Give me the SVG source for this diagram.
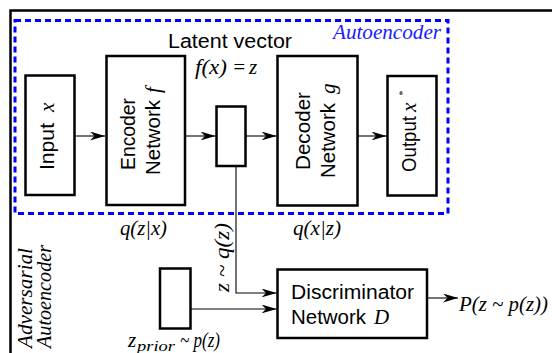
<svg xmlns="http://www.w3.org/2000/svg" width="552" height="353" viewBox="0 0 552 353">
<defs>
<style>
.box{fill:#fff;stroke:#000;stroke-width:2.5}
.ln{fill:none;stroke:#000;stroke-width:1.1}
.s{font-family:"Liberation Sans",Arial,sans-serif;font-size:20px;fill:#000}
.m{font-family:"Liberation Serif","Times New Roman",serif;font-style:italic;font-size:21px;fill:#000}
</style>
<marker id="ah" viewBox="0 0 15 9" refX="15" refY="4.5" markerWidth="15" markerHeight="9" orient="auto" markerUnits="userSpaceOnUse"><path d="M0,0 L15,4.5 L0,9 L4.5,4.5 Z" fill="#000"/></marker>
</defs>
<rect width="552" height="353" fill="#fff"/>
<path d="M10.5,353 V10.5 H552" fill="none" stroke="#000" stroke-width="2.5"/>
<g id="autoencoder-frame">
<rect x="15" y="20.5" width="433" height="193" fill="none" stroke="#0000ff" stroke-width="3" stroke-dasharray="6,4"/>
<text class="m" x="333" y="39" style="fill:#1a1aff" textLength="108" lengthAdjust="spacingAndGlyphs">Autoencoder</text>
</g>
<g id="adversarial-label">
<text class="m" transform="translate(32,348) rotate(-90)" textLength="100" lengthAdjust="spacingAndGlyphs">Adversarial</text>
<text class="m" transform="translate(51,348) rotate(-90)" textLength="103" lengthAdjust="spacingAndGlyphs">Autoencoder</text>
</g>
<g id="connectors">
<path class="ln" d="M75.5,136 H105" marker-end="url(#ah)"/>
<path class="ln" d="M185,136 H215.5" marker-end="url(#ah)"/>
<path class="ln" d="M246,136 H276.5" marker-end="url(#ah)"/>
<path class="ln" d="M357.5,136 H386.5" marker-end="url(#ah)"/>
<path class="ln" d="M236,166 V293 H276.5" marker-end="url(#ah)"/>
<path class="ln" d="M191,309 H276.5" marker-end="url(#ah)"/>
<path class="ln" d="M427,298 H458" marker-end="url(#ah)"/>
</g>
<g id="input">
<rect class="box" x="25.5" y="75.5" width="49" height="119.5"/>
<g transform="translate(53.5,170) rotate(-90)">
<text class="s" textLength="47" lengthAdjust="spacingAndGlyphs">Input</text>
<text class="m" x="58">x</text>
</g>
</g>
<g id="encoder">
<rect class="box" x="106.5" y="56" width="78.5" height="149"/>
<text class="s" transform="translate(135,170) rotate(-90)" textLength="72" lengthAdjust="spacingAndGlyphs">Encoder</text>
<g transform="translate(160,175) rotate(-90)">
<text class="s" textLength="75" lengthAdjust="spacingAndGlyphs">Network</text>
<text class="m" x="82">f</text>
</g>
<text class="m" x="120" y="235" textLength="47" lengthAdjust="spacingAndGlyphs">q(z|x)</text>
</g>
<g id="latent">
<text class="s" x="168" y="48" textLength="124" lengthAdjust="spacingAndGlyphs">Latent vector</text>
<text class="m" x="195" y="74" textLength="32" lengthAdjust="spacingAndGlyphs">f(x)</text>
<text class="m" x="232" y="74">=</text>
<text class="m" x="249" y="74">z</text>
<rect class="box" x="216.5" y="106.5" width="29" height="59.5"/>
<text class="m" transform="translate(229,292) rotate(-90)" textLength="69" lengthAdjust="spacingAndGlyphs">z ~ q(z)</text>
</g>
<g id="decoder">
<rect class="box" x="277.5" y="56" width="80" height="149.5"/>
<text class="s" transform="translate(310,170) rotate(-90)" textLength="78" lengthAdjust="spacingAndGlyphs">Decoder</text>
<g transform="translate(335,178) rotate(-90)">
<text class="s" textLength="75" lengthAdjust="spacingAndGlyphs">Network</text>
<text class="m" x="84">g</text>
</g>
<text class="m" x="293" y="235" textLength="48" lengthAdjust="spacingAndGlyphs">q(x|z)</text>
</g>
<g id="output">
<rect class="box" x="387.5" y="76" width="49" height="119.5"/>
<g transform="translate(416,172) rotate(-90)">
<text class="s" textLength="56" lengthAdjust="spacingAndGlyphs">Output</text>
<text class="m" x="60">x</text>
<text class="m" x="76" y="-10" style="font-size:10px">*</text>
</g>
</g>
<g id="prior">
<rect class="box" x="160" y="268.5" width="30.5" height="60"/>
<text class="m" x="128" y="347">z</text>
<text class="m" x="137" y="351" style="font-size:14px" textLength="38" lengthAdjust="spacingAndGlyphs">prior</text>
<text class="m" x="180" y="347" textLength="40" lengthAdjust="spacingAndGlyphs">~ p(z)</text>
</g>
<g id="discriminator">
<rect class="box" x="277.5" y="269.5" width="149.5" height="68.5"/>
<text class="s" x="291" y="299" textLength="123" lengthAdjust="spacingAndGlyphs">Discriminator</text>
<text class="s" x="291" y="324" textLength="75" lengthAdjust="spacingAndGlyphs">Network</text>
<text class="m" x="374" y="324">D</text>
<text class="m" x="459" y="311" textLength="89" lengthAdjust="spacingAndGlyphs">P(z ~ p(z))</text>
</g>
</svg>
